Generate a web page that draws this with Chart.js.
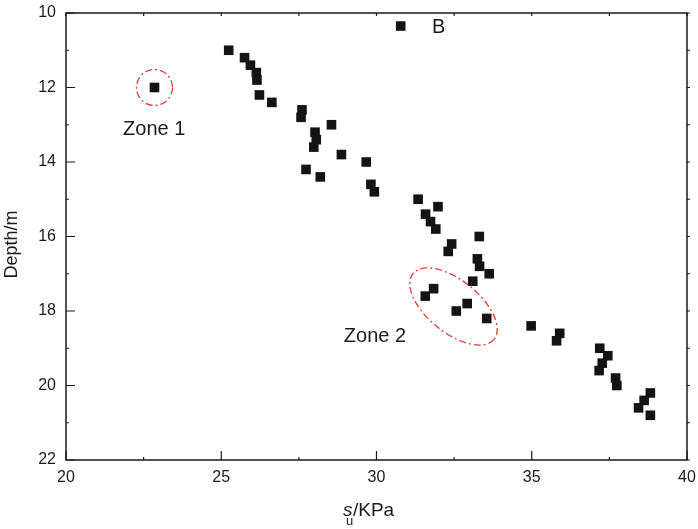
<!DOCTYPE html>
<html>
<head>
<meta charset="utf-8">
<script src="https://cdn.jsdelivr.net/npm/chart.js@4.4.1/dist/chart.umd.min.js"></script>
<style>
  html, body { margin: 0; padding: 0; background: #fff; }
  #wrap { width: 698px; height: 529px; }
</style>
</head>
<body>
<div id="wrap"><canvas id="c" width="698" height="529"></canvas></div>
<script>
// depth (m) and undrained shear strength su (kPa)
const depth = [10.35, 11.0, 11.2, 11.4, 11.6, 11.8, 12.0, 12.2, 12.4, 12.6,
  12.8, 13.0, 13.2, 13.4, 13.6, 13.8, 14.0, 14.2, 14.4, 14.6,
  14.8, 15.0, 15.2, 15.4, 15.6, 15.8, 16.0, 16.2, 16.4, 16.6,
  16.8, 17.0, 17.2, 17.4, 17.6, 17.8, 18.0, 18.2, 18.4, 18.6,
  18.8, 19.0, 19.2, 19.4, 19.6, 19.8, 20.0, 20.2, 20.4, 20.6, 20.8];
const su = [30.78, 25.24, 25.75, 25.94, 26.13, 26.15, 22.85, 26.23, 26.63, 27.60,
  27.57, 28.55, 28.02, 28.06, 27.98, 28.87, 29.67, 27.73, 28.19, 29.82,
  29.93, 31.34, 31.98, 31.58, 31.74, 31.91, 33.31, 32.42, 32.31, 33.25,
  33.32, 33.63, 33.10, 31.84, 31.57, 32.92, 32.57, 33.55, 34.98, 35.90,
  35.80, 37.19, 37.45, 37.27, 37.17, 37.70, 37.74, 38.82, 38.62, 38.44, 38.82];

const xTicks = [20, 25, 30, 35, 40];
const yTicks = [10, 12, 14, 16, 18, 20, 22];

// labels and dash-dot zones, in data units
const labels = [
  { text: 'B', x: 32.0, y: 10.38 },
  { text: 'Zone 1', x: 22.84, y: 13.12 },
  { text: 'Zone 2', x: 29.95, y: 18.69 }
];
const zones = [
  { x: 22.85, y: 12.0, rx: 0.58, ry: 0.58, rot: 0 },   // radii in x units
  { x: 32.48, y: 17.88, rx: 1.68, ry: 0.84, rot: 39 }
];

const FONT = '"Liberation Sans", Arial, sans-serif';
const INK = '#1a1a1a';

const framePlugin = {
  id: 'frame',
  afterDraw(chart) {
    const { ctx, chartArea: a, scales: { x, y } } = chart;
    ctx.save();

    // box
    ctx.strokeStyle = INK;
    ctx.lineWidth = 1.5;
    ctx.strokeRect(a.left, a.top, a.right - a.left, a.bottom - a.top);

    // ticks: long inward on bottom/left, short on top/right
    ctx.lineWidth = 1.2;
    ctx.beginPath();
    for (let i = 0; i < xTicks.length; i++) {
      const px = x.getPixelForValue(xTicks[i]);
      ctx.moveTo(px, a.bottom); ctx.lineTo(px, a.bottom - 9);
      ctx.moveTo(px, a.top); ctx.lineTo(px, a.top + 3);
      if (i < xTicks.length - 1) {
        const mx = x.getPixelForValue((xTicks[i] + xTicks[i + 1]) / 2);
        ctx.moveTo(mx, a.bottom); ctx.lineTo(mx, a.bottom - 3);
        ctx.moveTo(mx, a.top); ctx.lineTo(mx, a.top + 3);
      }
    }
    for (let i = 0; i < yTicks.length; i++) {
      const py = y.getPixelForValue(yTicks[i]);
      ctx.moveTo(a.left, py); ctx.lineTo(a.left + 9, py);
      ctx.moveTo(a.right, py); ctx.lineTo(a.right + 3, py);
      if (i < yTicks.length - 1) {
        const my = y.getPixelForValue((yTicks[i] + yTicks[i + 1]) / 2);
        ctx.moveTo(a.left, my); ctx.lineTo(a.left + 3, my);
        ctx.moveTo(a.right, my); ctx.lineTo(a.right + 3, my);
      }
    }
    ctx.stroke();

    // tick labels
    ctx.fillStyle = INK;
    ctx.font = '16px ' + FONT;
    ctx.textBaseline = 'middle';
    ctx.textAlign = 'center';
    xTicks.forEach(v => ctx.fillText(String(v), x.getPixelForValue(v), a.bottom + 18));
    ctx.textAlign = 'right';
    yTicks.forEach(v => ctx.fillText(String(v), a.left - 10, y.getPixelForValue(v)));

    // zones
    const pxPerX = Math.abs(x.getPixelForValue(1) - x.getPixelForValue(0));
    ctx.strokeStyle = '#e53b35';
    ctx.lineWidth = 1.3;
    ctx.setLineDash([7, 3, 2, 3]);
    zones.forEach(z => {
      ctx.beginPath();
      ctx.ellipse(x.getPixelForValue(z.x), y.getPixelForValue(z.y),
        z.rx * pxPerX, z.ry * pxPerX, z.rot * Math.PI / 180, 0, Math.PI * 2);
      ctx.stroke();
    });
    ctx.setLineDash([]);

    // text labels
    ctx.font = '20px ' + FONT;
    ctx.textAlign = 'center';
    labels.forEach(l => {
      ctx.fillText(l.text, x.getPixelForValue(l.x), y.getPixelForValue(l.y));
    });

    // axis titles
    ctx.save();
    ctx.translate(12, (a.top + a.bottom) / 2 + 8);
    ctx.rotate(-Math.PI / 2);
    ctx.font = '18px ' + FONT;
    ctx.fillText('Depth/m', 0, 0);
    ctx.restore();

    ctx.textAlign = 'left';
    ctx.textBaseline = 'alphabetic';
    const tx = 343, base = 516;
    ctx.font = 'italic 19px ' + FONT;
    ctx.fillText('s', tx, base);
    ctx.font = '13px ' + FONT;
    ctx.fillText('u', tx + 3, base + 9);
    ctx.font = '19px ' + FONT;
    ctx.fillText('/KPa', tx + 10, base);

    ctx.restore();
  }
};

new Chart(document.getElementById('c'), {
  type: 'scatter',
  data: {
    datasets: [{
      data: su.map((v, i) => ({ x: v, y: depth[i] })),
      pointStyle: 'rect',
      pointRadius: 6.8,
      pointHoverRadius: 6.8,
      backgroundColor: '#141414',
      borderColor: '#141414',
      borderWidth: 0
    }]
  },
  options: {
    responsive: false,
    animation: false,
    events: [],
    layout: { padding: { top: 13, right: 11, left: 0, bottom: 0 } },
    plugins: { legend: { display: false }, tooltip: { enabled: false } },
    scales: {
      x: {
        type: 'linear', min: 20, max: 40,
        afterBuildTicks: s => { s.ticks = xTicks.map(v => ({ value: v })); },
        afterFit: s => { s.height = 69; },
        grid: { display: false, drawTicks: false },
        border: { display: false },
        ticks: { display: false }
      },
      y: {
        type: 'linear', min: 10, max: 22, reverse: true,
        afterBuildTicks: s => { s.ticks = yTicks.map(v => ({ value: v })); },
        afterFit: s => { s.width = 66; },
        grid: { display: false, drawTicks: false },
        border: { display: false },
        ticks: { display: false }
      }
    }
  },
  plugins: [framePlugin]
});
</script>
</body>
</html>
